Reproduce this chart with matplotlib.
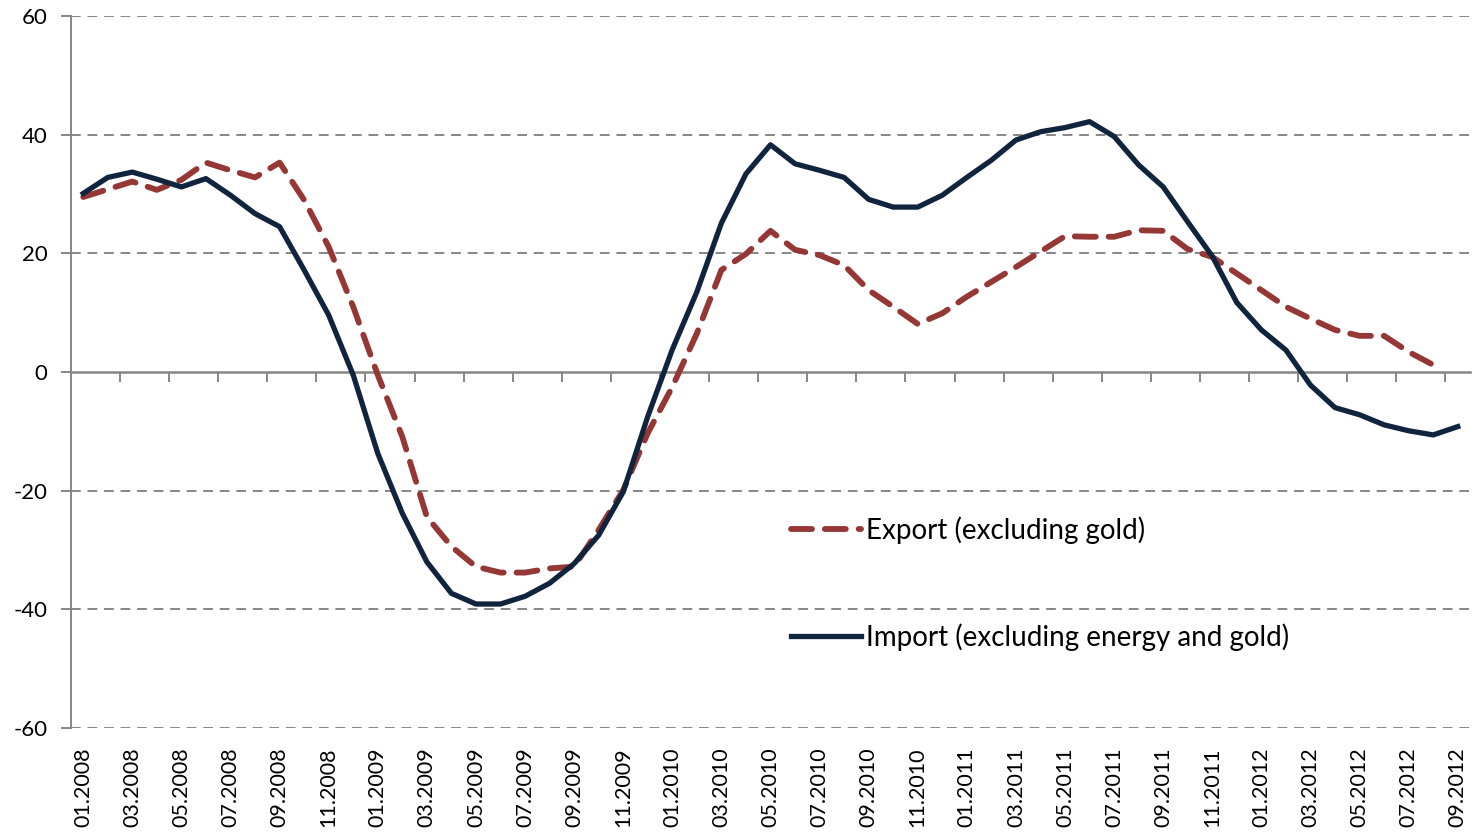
import matplotlib.pyplot as plt

months = ['%02d.%d' % (m, y) for y in range(2008, 2013) for m in range(1, 13)][:57]

export_vals = [29.5, 30.8, 32.1, 30.7, 32.4, 35.3, 34.0, 32.8, 35.3, 29.0,
               21.1, 11.0, -0.5, -10.9, -24.4, -29.4, -32.8, -33.8, -33.8, -33.1,
               -32.8, -26.6, -19.9, -10.3, -2.5, 6.5, 17.2, 19.9, 23.8, 20.6,
               19.7, 18.0, 13.8, 11.0, 8.1, 9.9, 12.7, 15.2, 17.7, 20.3,
               22.9, 22.8, 22.8, 23.9, 23.8, 20.7, 19.4, 16.6, 13.8, 11.0,
               9.0, 7.1, 6.1, 6.1, 3.4, 1.2]

import_vals = [30.1, 32.8, 33.7, 32.5, 31.2, 32.6, 29.8, 26.7, 24.5, 17.2,
               9.6, -0.5, -13.7, -23.8, -32.0, -37.3, -39.1, -39.1, -37.8, -35.6,
               -32.3, -27.5, -20.2, -7.5, 3.8, 13.5, 25.1, 33.4, 38.3, 35.1,
               34.0, 32.8, 29.1, 27.8, 27.8, 29.8, 32.8, 35.7, 39.1, 40.5,
               41.2, 42.2, 39.7, 34.9, 31.2, 25.3, 19.5, 11.7, 7.1, 3.7,
               -2.2, -6.0, -7.2, -8.9, -9.9, -10.6, -9.2]

y_ticks = [-60, -40, -20, 0, 20, 40, 60]

plt.rcParams['font.family'] = ['Lato', 'DejaVu Sans']
plt.rcParams['axes.unicode_minus'] = False

fig = plt.figure(figsize=(14.78, 8.4), dpi=100)
ax = fig.add_axes([0.048, 0.1333, 0.9466, 0.8476])

grey = '#868686'
for v in y_ticks:
    if v != 0:
        ax.axhline(v, color=grey, lw=1.4, ls=(0, (5, 3.5)), zorder=1)

ax.plot(range(len(export_vals)), export_vals, color='#953735', lw=4.2,
        ls=(0, (3.6, 2.2)), dash_capstyle='round', label='Export (excluding gold)', zorder=3)
ax.plot(range(len(import_vals)), import_vals, color='#10243E', lw=3.8,
        label='Import (excluding energy and gold)', zorder=4)

ax.set_xlim(-0.5, len(months) - 0.5)
ax.set_ylim(-60, 60)
ax.set_yticks(y_ticks)
ax.tick_params(axis='y', labelsize=16, length=7, width=1.4, color=grey, pad=10)

ax.set_xticks(range(0, len(months), 2))
ax.set_xticklabels(months[::2], rotation=90, fontsize=15.5)
ax.tick_params(axis='x', length=0, pad=14)

for s in ['top', 'right', 'bottom']:
    ax.spines[s].set_visible(False)
ax.spines['left'].set_color(grey)
ax.spines['left'].set_linewidth(1.4)

# horizontal axis line at zero with tick marks between categories
zero_axis = ax.secondary_xaxis(0.5)
zero_axis.set_xticks([i + 0.5 for i in range(1, len(months) - 1, 2)])
zero_axis.set_xticklabels([])
zero_axis.tick_params(axis='x', direction='in', length=7, width=1.4, color=grey)
for s in zero_axis.spines.values():
    s.set_color(grey)
    s.set_linewidth(1.8)

ax.legend(loc='upper left', bbox_to_anchor=(0.497, 0.333), frameon=False, fontsize=20,
          handlelength=2.5, labelspacing=2.88, handletextpad=0.2)

plt.savefig('out.png', dpi=100)
